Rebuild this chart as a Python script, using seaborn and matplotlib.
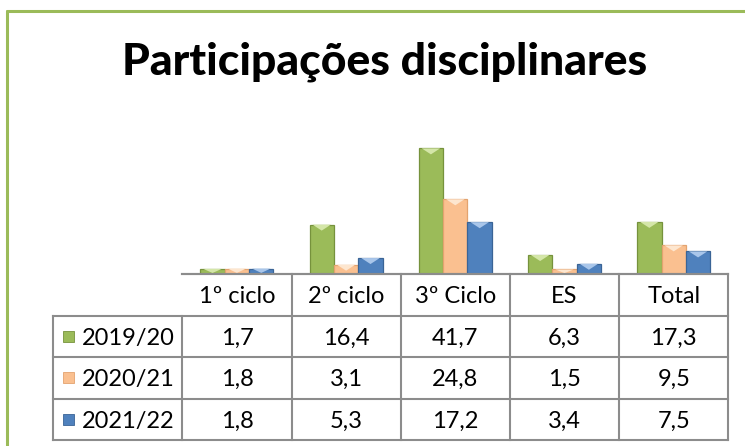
import matplotlib
matplotlib.use("Agg")
import matplotlib.pyplot as plt
import matplotlib.transforms as mtransforms
from matplotlib.lines import Line2D
from matplotlib.patches import Rectangle, Polygon
import pandas as pd
import seaborn as sns

# data
categories = ["1º ciclo", "2º ciclo", "3º Ciclo", "ES", "Total"]
years = ["2019/20", "2020/21", "2021/22"]
v_2019 = [1.7, 16.4, 41.7, 6.3, 17.3]
v_2020 = [1.8, 3.1, 24.8, 1.5, 9.5]
v_2021 = [1.8, 5.3, 17.2, 3.4, 7.5]
colors = ["#9BBB59", "#FAC090", "#4F81BD"]
edges = ["#76923C", "#E3A36F", "#3A6496"]
lights = ["#D4E6A8", "#FDE6CF", "#A9C6EA"]

series = [v_2019, v_2020, v_2021]
df = pd.DataFrame({
    "categoria": categories * 3,
    "ano": [y for y in years for _ in categories],
    "valor": v_2019 + v_2020 + v_2021,
})

sns.set_theme(style="white")
plt.rcParams["font.family"] = ["Lato", "DejaVu Sans"]
plt.rcParams["text.color"] = "black"

W, H = 745, 446
fig = plt.figure(figsize=(W / 100, H / 100), dpi=100)


def fx(px):
    return px / W


def fy(py):
    return (H - py) / H


# bar area
base_y, top_y = 274, 138.4
ax = fig.add_axes([fx(182.3), fy(base_y), fx(728.3) - fx(182.3), (base_y - top_y) / H])
sns.barplot(data=df, x="categoria", y="valor", hue="ano", palette=colors,
            width=0.67, gap=0, ax=ax, legend=False, saturation=1)
ax.set_ylim(0, 45)
ax.set_xlim(-0.5, len(categories) - 0.5)
# bevel look: darker outline and a light chevron at the top of each bar
for i, bars in enumerate(ax.containers):
    for b in bars:
        b.set_edgecolor(edges[i])
        b.set_linewidth(0.9)
        x0, w, h = b.get_x(), b.get_width(), b.get_height()
        d = min(2.0, h * 0.8)
        ax.add_patch(Polygon([[x0 + w * 0.12, h], [x0 + w * 0.88, h], [x0 + w / 2, h - d]],
                             closed=True, facecolor=lights[i], edgecolor="none", zorder=3))
ax.set_xlabel("")
ax.set_ylabel("")
ax.set_xticks([])
ax.set_yticks([])
for s in ["top", "right", "left"]:
    ax.spines[s].set_visible(False)
ax.spines["bottom"].set_color("#8C8C8C")
ax.spines["bottom"].set_linewidth(1.5)

# table under the bars (x in data units, y in figure units)
tr = mtransforms.blended_transform_factory(ax.transData, fig.transFigure)
row_lines = [274, 315.5, 357, 398.5, 440]
grid = dict(color="#8C8C8C", lw=1.5, solid_capstyle="projecting")
left_px = 53
for k in range(len(categories) + 1):
    x = k - 0.5
    y0 = row_lines[0] if k > 0 else row_lines[1]
    fig.add_artist(Line2D([x, x], [fy(y0), fy(row_lines[-1])], transform=tr, **grid))
fig.add_artist(Line2D([fx(left_px), fx(left_px)], [fy(row_lines[1]), fy(row_lines[-1])], **grid))
for j, yl in enumerate(row_lines):
    x0 = fx(left_px) if j > 0 else fx(182.3)
    fig.add_artist(Line2D([x0, fx(728.3)], [fy(yl), fy(yl)], **grid))

fs = 17
for k, c in enumerate(categories):
    yc = (row_lines[0] + row_lines[1]) / 2
    fig.text(k, fy(yc), c, transform=tr, ha="center", va="center_baseline", fontsize=fs)
for r, (yr, vals) in enumerate(zip(years, series)):
    yc = (row_lines[r + 1] + row_lines[r + 2]) / 2
    fig.add_artist(Rectangle((fx(62.5), fy(yc + 5.5)), fx(11.5), 11 / H,
                             facecolor=colors[r], edgecolor=edges[r], lw=0.6))
    fig.text(fx(82), fy(yc), yr, ha="left", va="center_baseline", fontsize=fs)
    for k, v in enumerate(vals):
        fig.text(k, fy(yc), f"{v:.1f}".replace(".", ","), transform=tr,
                 ha="center", va="center_baseline", fontsize=fs)

# title
fig.text(fx(384.5), fy(75), "Participações disciplinares", ha="center", va="baseline",
         fontsize=32, fontweight="black")

# chart frame
frame = dict(color="#9BBB59", lw=2.2)
fig.add_artist(Line2D([fx(7.5), fx(7.5)], [fy(11), 0], **frame))
fig.add_artist(Line2D([fx(7.5), 1], [fy(11), fy(11)], **frame))

fig.savefig("out.png", dpi=100)
